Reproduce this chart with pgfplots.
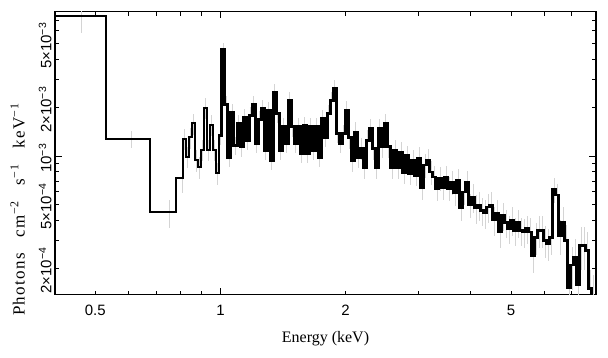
\documentclass[border=0pt]{standalone}
\usepackage{fontspec}
\setmainfont{Liberation Serif}
\newfontfamily\tickfont{Liberation Sans}
\newfontfamily\ylabfont[LetterSpace=8]{Liberation Serif}
\usepackage{pgfplots}
\pgfplotsset{compat=1.18}
\usepackage{pgfplotstable}

\pgfplotstableread{
E f e
0.3873 7.43e-3 0
0.4620 7.43e-3 0.22
0.6089 1.28e-3 0.12
0.7553 4.48e-4 0.2
0.8099 7.33e-4 0.2
0.8189 1.28e-3 0.15
0.8327 9.86e-4 0.15
0.8466 1.31e-3 0.15
0.8608 1.60e-3 0.15
0.8753 9.44e-4 0.15
0.8900 8.54e-4 0.15
0.9049 1.09e-3 0.15
0.9201 1.99e-3 0.15
0.9356 1.09e-3 0.15
0.9513 1.56e-3 0.15
0.9672 1.09e-3 0.15
0.9835 7.84e-4 0.15
1.0000 1.35e-3 0.13
1.0168 4.57e-3 0.10
1.0339 2.08e-3 0.13
1.0512 9.86e-4 0.13
1.0689 1.88e-3 0.13
1.0868 1.17e-3 0.13
1.1051 1.60e-3 0.13
1.1236 1.14e-3 0.13
1.1425 1.75e-3 0.13
1.1617 1.26e-3 0.13
1.1812 1.80e-3 0.13
1.2010 2.08e-3 0.13
1.2212 1.20e-3 0.13
1.2417 1.68e-3 0.13
1.2625 1.99e-3 0.13
1.2837 1.09e-3 0.13
1.3053 1.93e-3 0.13
1.3272 9.44e-4 0.13
1.3495 2.50e-3 0.12
1.3721 1.85e-3 0.13
1.3952 1.09e-3 0.13
1.4186 1.52e-3 0.13
1.4424 1.20e-3 0.13
1.4666 2.23e-3 0.13
1.4912 1.52e-3 0.13
1.5163 1.20e-3 0.13
1.5417 1.52e-3 0.13
1.5676 1.04e-3 0.13
1.5939 1.56e-3 0.13
1.6207 1.04e-3 0.13
1.6479 1.52e-3 0.13
1.6756 1.09e-3 0.13
1.7037 1.52e-3 0.13
1.7323 9.86e-4 0.13
1.7614 1.72e-3 0.13
1.7909 1.31e-3 0.13
1.8210 1.85e-3 0.13
1.8516 2.23e-3 0.12
1.8826 2.65e-3 0.12
1.9143 1.39e-3 0.13
1.9464 1.20e-3 0.13
1.9791 1.39e-3 0.13
2.0123 1.93e-3 0.14
2.0461 1.31e-3 0.15
2.0804 9.44e-4 0.15
2.1154 1.41e-3 0.15
2.1509 9.86e-4 0.15
2.1870 1.12e-3 0.15
2.2237 8.54e-4 0.15
2.2610 1.26e-3 0.15
2.2990 1.49e-3 0.15
2.3376 1.12e-3 0.15
2.3768 8.54e-4 0.15
2.4167 1.49e-3 0.15
2.4573 1.14e-3 0.15
2.4985 1.60e-3 0.15
2.5405 1.14e-3 0.15
2.5831 8.54e-4 0.15
2.6265 1.09e-3 0.15
2.6706 8.54e-4 0.15
2.7154 1.06e-3 0.15
2.7610 7.95e-4 0.15
2.8073 1.01e-3 0.15
2.8545 7.84e-4 0.15
2.9024 9.44e-4 0.15
2.9511 7.62e-4 0.15
3.0000 9.72e-4 0.17
3.0504 6.41e-4 0.17
3.1016 8.79e-4 0.17
3.1536 9.44e-4 0.17
3.2065 7.95e-4 0.17
3.2603 7.40e-4 0.17
3.3150 6.32e-4 0.17
3.3706 7.30e-4 0.17
3.4271 6.41e-4 0.17
3.4846 7.40e-4 0.17
3.5431 6.32e-4 0.17
3.6025 6.89e-4 0.17
3.6629 5.89e-4 0.17
3.7244 7.09e-4 0.17
3.7868 4.75e-4 0.17
3.8503 5.97e-4 0.17
3.9149 6.89e-4 0.17
3.9806 4.96e-4 0.17
4.0474 5.56e-4 0.2
4.1152 4.75e-4 0.2
4.1843 4.96e-4 0.2
4.2545 4.61e-4 0.2
4.3258 4.42e-4 0.2
4.3984 4.82e-4 0.2
4.4722 4.96e-4 0.2
4.5472 4.00e-4 0.2
4.6234 4.42e-4 0.2
4.7010 3.37e-4 0.2
4.7798 4.29e-4 0.2
4.8600 3.88e-4 0.2
4.9415 3.56e-4 0.2
5.0244 4.00e-4 0.2
5.109 3.46e-4 0.2
5.195 3.88e-4 0.2
5.282 3.46e-4 0.2
5.371 3.37e-4 0.2
5.461 3.56e-4 0.2
5.553 3.37e-4 0.22
5.646 2.42e-4 0.22
5.741 3.13e-4 0.22
5.837 3.46e-4 0.22
5.935 3.46e-4 0.22
6.035 3.00e-4 0.22
6.136 2.87e-4 0.22
6.239 3.13e-4 0.22
6.344 6.23e-4 0.18
6.450 5.72e-4 0.18
6.559 3.22e-4 0.25
6.669 3.88e-4 0.25
6.781 3.00e-4 0.25
6.895 1.53e-4 0.3
7.010 2.10e-4 0.3
7.128 2.35e-4 0.3
7.248 1.58e-4 0.3
7.369 2.79e-4 0.3
7.493 2.79e-4 0.3
7.619 2.60e-4 0.3
7.747 1.51e-4 0.3
7.877 1.40e-4 0.3
}\spec

\begin{document}
\begin{tikzpicture}
\begin{axis}[
  scale only axis, width=541pt, height=283pt,
  xmode=log, ymode=log,
  xmin=0.4, xmax=8.0, ymin=1.38e-4, ymax=7.93e-3,
  axis line style={line width=1.1pt},
  every tick/.style={line width=1pt, black},
  tick align=inside,
  major tick length=7pt, minor tick length=4pt,
  xtick={1}, xticklabels={1},
  extra x ticks={0.5,2,5}, extra x tick labels={0.5,2,5},
  extra x tick style={major tick length=4pt},
  minor xtick={0.5,0.6,0.7,0.8,0.9,2,3,4,5,6,7,8},
  ytick={1e-3}, yticklabels={10\textsuperscript{−3}},
  extra y ticks={2e-4,5e-4,2e-3,5e-3},
  extra y tick labels={2×10\textsuperscript{−4},5×10\textsuperscript{−4},2×10\textsuperscript{−3},5×10\textsuperscript{−3}},
  extra y tick style={major tick length=4pt},
  minor ytick={2e-4,3e-4,4e-4,5e-4,6e-4,7e-4,8e-4,9e-4,2e-3,3e-3,4e-3,5e-3,6e-3,7e-3},
  tick label style={font=\tickfont\fontsize{15}{15}\selectfont},
  xticklabel style={yshift=-7pt},
  yticklabel style={rotate=90, anchor=south, xshift=-2pt},
  label style={font=\fontsize{16}{16}\selectfont},
  xlabel={Energy (keV)},
  ylabel={\ylabfont\fontsize{17}{17}\selectfont Photons\hspace{0.6em} cm\textsuperscript{−2}\hspace{0.6em} s\textsuperscript{−1}\hspace{0.6em} keV\textsuperscript{−1}},
  xlabel style={yshift=-9pt},
  ylabel style={at={(axis description cs:-0.069,0.30)}, anchor=center},
]
\addplot[draw=none, mark=none, forget plot,
  error bars/.cd, y dir=both, y explicit relative, error mark=none,
  error bar style={draw=black!17, line width=0.7pt}]
  table[x=E, y=f, y error=e] {\spec};
\addplot[const plot mark mid, black, line width=2.2pt, mark=none,
  skip coords between index={18}{142}]
  table[x=E, y=f] {\spec};
\addplot[const plot mark mid, black, line width=3pt, mark=none,
  skip coords between index={0}{17}, skip coords between index={84}{142}]
  table[x=E, y=f] {\spec};
\addplot[const plot mark mid, black, line width=2.6pt, mark=none,
  skip coords between index={0}{83}]
  table[x=E, y=f] {\spec};
\end{axis}
\pgfresetboundingbox
\path[use as bounding box] ([xshift=-55pt,yshift=-62.7pt]current axis.south west) rectangle ([xshift=12pt,yshift=11.5pt]current axis.north east);
\end{tikzpicture}
\end{document}
